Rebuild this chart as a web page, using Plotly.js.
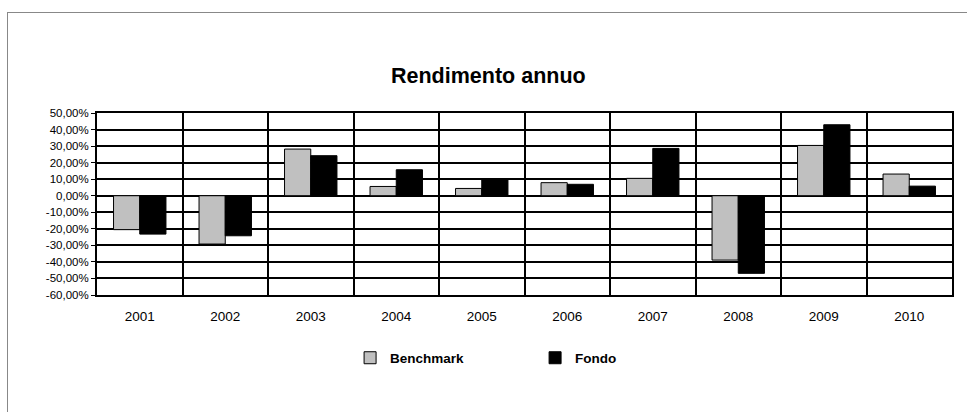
<!DOCTYPE html>
<html>
<head>
<meta charset="utf-8">
<script src="https://cdn.plot.ly/plotly-3.0.1.min.js"></script>
<style>
  html, body { margin: 0; padding: 0; background: #fff; }
  #wrap { position: relative; width: 967px; height: 412px; overflow: hidden; }
  #frame { position: absolute; left: 7px; top: 12px; width: 980px; height: 420px;
           border-top: 1px solid #888; border-left: 1px solid #888; pointer-events: none; }
  #chart { position: absolute; left: 0; top: 0; width: 967px; height: 412px; }
</style>
</head>
<body>
<div id="wrap">
  <div id="chart"></div>
  <div id="frame"></div>
</div>
<script>
const years = ['2001','2002','2003','2004','2005','2006','2007','2008','2009','2010'];
const benchmark = [-20.5, -29.2, 28.2, 5.6, 4.4, 7.9, 10.5, -38.9, 30.4, 13.1];
const fondo = [-23.2, -24.2, 24.2, 15.7, 9.6, 6.9, 28.6, -46.9, 42.9, 5.8];
const yTickVals = [50, 40, 30, 20, 10, 0, -10, -20, -30, -40, -50, -60];
const yTickText = ['50,00%','40,00%','30,00%','20,00%','10,00%','0,00%','-10,00%','-20,00%','-30,00%','-40,00%','-50,00%','-60,00%'];

const FONT = 'Arial, "Liberation Sans", sans-serif';

const traces = [
  { type: 'bar', name: 'Benchmark', x: years, y: benchmark,
    marker: { color: '#c0c0c0', line: { color: '#000', width: 1 } } },
  { type: 'bar', name: 'Fondo', x: years, y: fondo,
    marker: { color: '#000000', line: { color: '#000', width: 1 } } }
];

const layout = {
  width: 967, height: 412,
  margin: { l: 97, r: 15, t: 113, b: 117 },
  paper_bgcolor: 'rgba(0,0,0,0)', plot_bgcolor: '#fff',
  font: { family: FONT, size: 11, color: '#000' },
  title: { text: 'Rendimento annuo', font: { family: FONT, size: 21.5, color: '#000', weight: 'bold' },
           x: 0.505, xanchor: 'center', y: 0.818, yanchor: 'middle' },
  barmode: 'group', bargap: 0.387, bargroupgap: 0,
  xaxis: {
    type: 'category', tickson: 'boundaries', showgrid: true, gridcolor: '#000', gridwidth: 2,
    ticks: '', showline: true, linecolor: '#000', linewidth: 2, mirror: true,
    tickfont: { family: FONT, size: 13.5 }, ticklen: 0, ticklabelstandoff: 8, automargin: false
  },
  yaxis: {
    range: [-60, 50], tickmode: 'array', tickvals: yTickVals, ticktext: yTickText,
    showgrid: true, gridcolor: '#000', gridwidth: 2, zeroline: true, zerolinecolor: '#000', zerolinewidth: 2,
    ticks: 'outside', ticklen: 4, tickcolor: '#000', tickwidth: 1,
    showline: true, linecolor: '#000', linewidth: 2, mirror: true,
    tickfont: { family: FONT, size: 11.5 }, automargin: false
  },
  showlegend: true,
  legend: {
    orientation: 'h', x: 0.296, xanchor: 'left', y: -0.346, yanchor: 'middle',
    font: { family: FONT, size: 13.5, weight: 'bold' },
    entrywidth: 140, entrywidthmode: 'pixels', itemwidth: 30, bgcolor: 'rgba(0,0,0,0)'
  }
};

Plotly.newPlot('chart', traces, layout, { displayModeBar: false, staticPlot: true });
</script>
</body>
</html>
